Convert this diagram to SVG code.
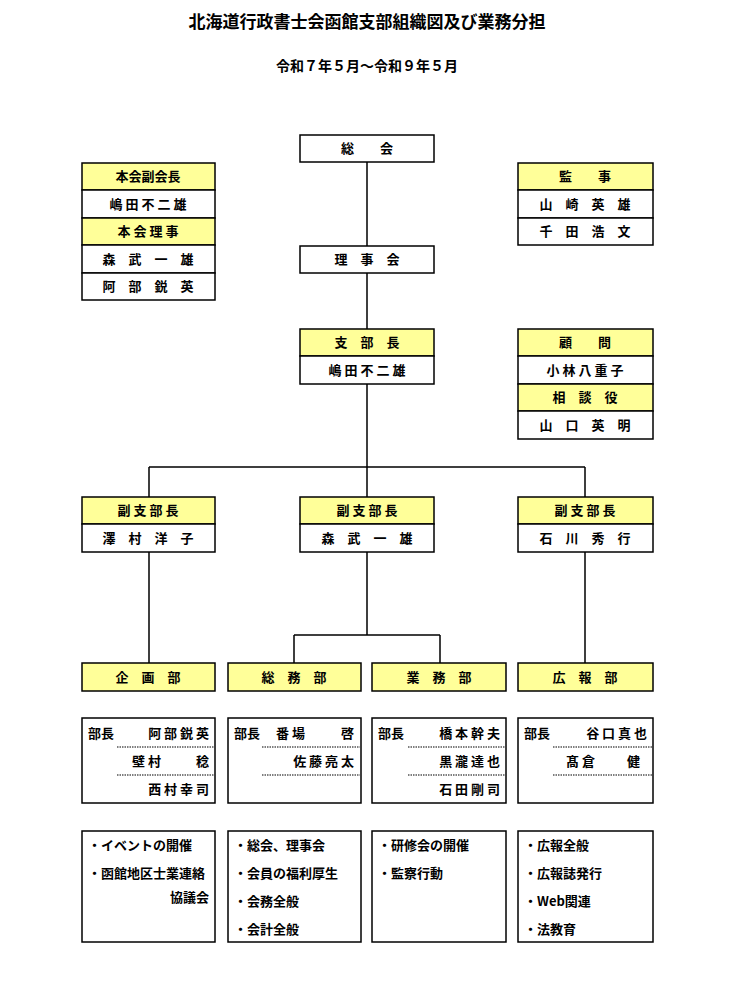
<svg xmlns="http://www.w3.org/2000/svg" width="735" height="984" viewBox="0 0 735 984">
<style>
text{font-family:"Noto Sans CJK JP","Noto Sans CJK SC",sans-serif;font-weight:bold;font-size:13px;fill:#000}
.c{text-anchor:middle}
.r{text-anchor:end}
.b{fill:#fff;stroke:#000;stroke-width:1.5}
.y{fill:#ffff99;stroke:#000;stroke-width:1.5}
.l{stroke:#000;stroke-width:1.5;fill:none}
.d{stroke:#000;stroke-width:1.2;stroke-dasharray:1.5 1}
</style>
<rect width="735" height="984" fill="#fff"/>
<text x="367" y="28" class="c" style="font-size:17px">北海道行政書士会函館支部組織図及び業務分担</text>
<text x="367" y="71" class="c" style="font-size:14px">令和７年５月～令和９年５月</text>
<g id="connectors">
<path class="l" d="M367 162V246M367 273V329M367 384V467M149 467H585M149 467V497M367 467V497M585 467V497M149 552V663M585 552V663M367 552V635M294 635H440M294 635V663M440 635V663"/>
</g>
<g id="soukai"><rect class="b" x="300" y="135" width="134" height="27"/><text x="367" y="153" class="c">総　　会</text></g>
<g id="left-top">
<rect class="y" x="82" y="163" width="133" height="27"/><text x="148" y="181" class="c">本会副会長</text>
<rect class="b" x="82" y="190" width="133" height="28"/><text x="148" y="209" class="c">嶋 田 不 二 雄</text>
<rect class="y" x="82" y="218" width="133" height="27"/><text x="148" y="236" class="c">本 会 理 事</text>
<rect class="b" x="82" y="245" width="133" height="28"/><text x="148" y="264" class="c">森　武　一　雄</text>
<rect class="b" x="82" y="273" width="133" height="27"/><text x="148" y="291" class="c">阿　部　鋭　英</text>
</g>
<g id="kanji">
<rect class="y" x="518" y="163" width="135" height="27"/><text x="585" y="181" class="c">監　　事</text>
<rect class="b" x="518" y="190" width="135" height="28"/><text x="585" y="209" class="c">山　崎　英　雄</text>
<rect class="b" x="518" y="218" width="135" height="27"/><text x="585" y="236" class="c">千　田　浩　文</text>
</g>
<g id="rijikai"><rect class="b" x="300" y="246" width="134" height="27"/><text x="367" y="264" class="c">理　事　会</text></g>
<g id="shibucho">
<rect class="y" x="300" y="329" width="134" height="27"/><text x="367" y="347" class="c">支　部　長</text>
<rect class="b" x="300" y="356" width="134" height="28"/><text x="367" y="375" class="c">嶋 田 不 二 雄</text>
</g>
<g id="komon">
<rect class="y" x="518" y="329" width="135" height="27"/><text x="585" y="347" class="c">顧　　問</text>
<rect class="b" x="518" y="356" width="135" height="28"/><text x="585" y="375" class="c">小 林 八 重 子</text>
<rect class="y" x="518" y="384" width="135" height="27"/><text x="585" y="402" class="c">相　談　役</text>
<rect class="b" x="518" y="411" width="135" height="28"/><text x="585" y="430" class="c">山　口　英　明</text>
</g>
<g id="fuku1">
<rect class="y" x="82" y="497" width="133" height="27"/><text x="148" y="515" class="c">副 支 部 長</text>
<rect class="b" x="82" y="524" width="133" height="28"/><text x="148" y="543" class="c">澤　村　洋　子</text>
</g>
<g id="fuku2">
<rect class="y" x="300" y="497" width="134" height="27"/><text x="367" y="515" class="c">副 支 部 長</text>
<rect class="b" x="300" y="524" width="134" height="28"/><text x="367" y="543" class="c">森　武　一　雄</text>
</g>
<g id="fuku3">
<rect class="y" x="518" y="497" width="135" height="27"/><text x="585" y="515" class="c">副 支 部 長</text>
<rect class="b" x="518" y="524" width="135" height="28"/><text x="585" y="543" class="c">石　川　秀　行</text>
</g>
<g id="kikaku">
<rect class="y" x="82" y="663" width="133" height="28"/><text x="148" y="682" class="c">企　画　部</text>
<rect class="b" x="82" y="718" width="133" height="85"/>
<text x="88" y="738">部長</text><text x="209" y="738" class="r">阿 部 鋭 英</text>
<line class="d" x1="117" y1="747" x2="214" y2="747"/>
<text x="132" y="766">壁 村</text><text x="209" y="766" class="r">稔</text>
<line class="d" x1="117" y1="775" x2="214" y2="775"/>
<text x="209" y="794" class="r">西 村 幸 司</text>
<rect class="b" x="82" y="831" width="133" height="111"/>
<text x="88" y="850">・イベントの開催</text>
<text x="88" y="878">・函館地区士業連絡</text>
<text x="209" y="902" class="r">協議会</text>
</g>
<g id="soumu">
<rect class="y" x="228" y="663" width="133" height="28"/><text x="294" y="682" class="c">総　務　部</text>
<rect class="b" x="228" y="718" width="133" height="85"/>
<text x="234" y="738">部長</text><text x="276" y="738">番 場</text><text x="354" y="738" class="r">啓</text>
<line class="d" x1="262" y1="747" x2="360" y2="747"/>
<text x="354" y="766" class="r">佐 藤 亮 太</text>
<line class="d" x1="262" y1="775" x2="360" y2="775"/>
<rect class="b" x="228" y="831" width="133" height="111"/>
<text x="234" y="850">・総会、理事会</text>
<text x="234" y="878">・会員の福利厚生</text>
<text x="234" y="906">・会務全般</text>
<text x="234" y="934">・会計全般</text>
</g>
<g id="gyoumu">
<rect class="y" x="372" y="663" width="134" height="28"/><text x="439" y="682" class="c">業　務　部</text>
<rect class="b" x="372" y="718" width="134" height="85"/>
<text x="378" y="738">部長</text><text x="500" y="738" class="r">橋 本 幹 夫</text>
<line class="d" x1="408" y1="747" x2="505" y2="747"/>
<text x="500" y="766" class="r">黒 瀧 達 也</text>
<line class="d" x1="408" y1="775" x2="505" y2="775"/>
<text x="500" y="794" class="r">石 田 剛 司</text>
<rect class="b" x="372" y="831" width="134" height="111"/>
<text x="378" y="850">・研修会の開催</text>
<text x="378" y="878">・監察行動</text>
</g>
<g id="kouhou">
<rect class="y" x="518" y="663" width="135" height="28"/><text x="585" y="682" class="c">広　報　部</text>
<rect class="b" x="518" y="718" width="135" height="85"/>
<text x="524" y="738">部長</text><text x="647" y="738" class="r">谷 口 真 也</text>
<line class="d" x1="553" y1="747" x2="652" y2="747"/>
<text x="566" y="766">髙 倉</text><text x="640" y="766" class="r">健</text>
<line class="d" x1="553" y1="775" x2="652" y2="775"/>
<rect class="b" x="518" y="831" width="135" height="111"/>
<text x="524" y="850">・広報全般</text>
<text x="524" y="878">・広報誌発行</text>
<text x="524" y="906">・Web関連</text>
<text x="524" y="934">・法教育</text>
</g>
</svg>
